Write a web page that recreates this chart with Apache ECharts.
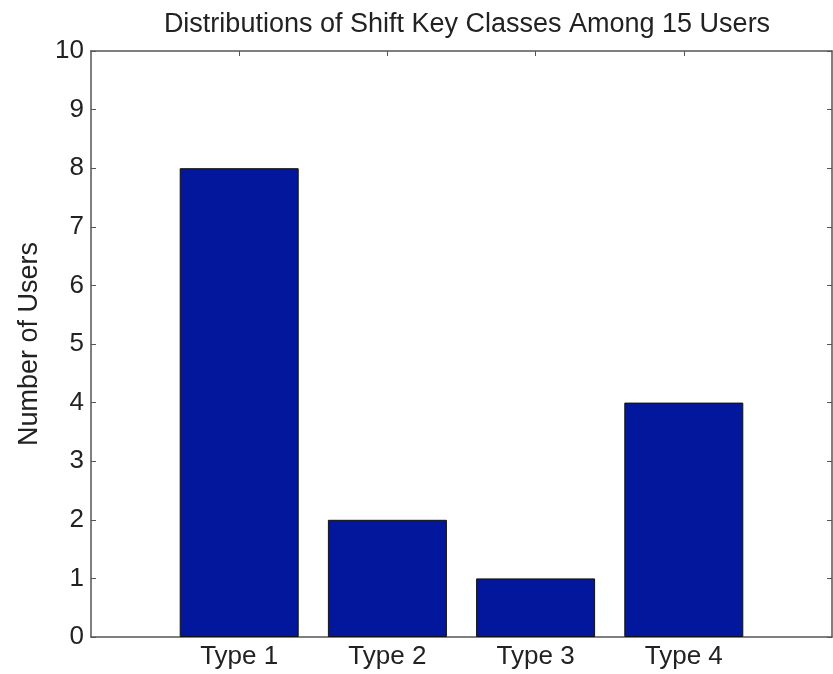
<!DOCTYPE html>
<html>
<head>
<meta charset="utf-8">
<script src="https://cdn.jsdelivr.net/npm/echarts@6/dist/echarts.min.js"></script>
<style>
  html, body { margin: 0; padding: 0; background: #fff; }
  #chart { width: 833px; height: 674px; }
</style>
</head>
<body>
<div id="chart"></div>
<script>
// data
const categories = ["Type 1", "Type 2", "Type 3", "Type 4"];
const positions = [1, 2, 3, 4];
const users = [8, 2, 1, 4];
const yTicks = [0, 1, 2, 3, 4, 5, 6, 7, 8, 9, 10];

const chart = echarts.init(document.getElementById("chart"));

const font = "'Liberation Sans', Arial, Helvetica, sans-serif";
const axisColor = "#555";

const option = {
  backgroundColor: "#fff",
  animation: false,
  title: {
    text: "Distributions of Shift Key Classes Among 15 Users",
    left: 462,
    textAlign: "center",
    top: 6,
    textStyle: {
      fontFamily: font,
      fontSize: 27,
      fontWeight: "normal",
      color: "#222",
    },
  },
  grid: {
    left: 91,
    right: 1,
    top: 51,
    bottom: 37,
  },
  xAxis: [
    {
      type: "value",
      min: 0,
      max: 5,
      interval: 1,
      splitLine: { show: false },
      axisLine: { onZero: false, lineStyle: { color: axisColor, width: 1.5 } },
      axisTick: {
        inside: true,
        length: 5,
        customValues: positions,
        lineStyle: { color: axisColor },
      },
      axisLabel: {
        customValues: positions,
        formatter: (v) => categories[positions.indexOf(v)] || "",
        fontFamily: font,
        fontSize: 26,
        color: "#222",
        margin: 7,
      },
    },
    {
      type: "value",
      position: "top",
      min: 0,
      max: 5,
      interval: 1,
      splitLine: { show: false },
      axisLine: { show: true, onZero: false, lineStyle: { color: axisColor, width: 1.5 } },
      axisTick: {
        inside: true,
        length: 5,
        customValues: positions,
        lineStyle: { color: axisColor },
      },
      axisLabel: { show: false },
    },
  ],
  yAxis: [
    {
      type: "value",
      min: 0,
      max: 10,
      interval: 1,
      name: "Number of Users",
      nameLocation: "middle",
      nameGap: 48,
      nameTextStyle: { fontFamily: font, fontSize: 27, color: "#222" },
      splitLine: { show: false },
      axisLine: { show: true, onZero: false, lineStyle: { color: axisColor, width: 1.5 } },
      axisTick: {
        inside: true,
        length: 5,
        customValues: yTicks,
        lineStyle: { color: axisColor },
      },
      axisLabel: {
        fontFamily: font,
        fontSize: 26,
        color: "#222",
        margin: 7,
      },
    },
    {
      type: "value",
      position: "right",
      min: 0,
      max: 10,
      interval: 1,
      splitLine: { show: false },
      axisLine: { show: true, onZero: false, lineStyle: { color: axisColor, width: 1.5 } },
      axisTick: {
        inside: true,
        length: 5,
        lineStyle: { color: axisColor },
      },
      axisLabel: { show: false },
    },
  ],
  series: [
    {
      type: "bar",
      data: positions.map((p, i) => [p, users[i]]),
      barWidth: 119,
      itemStyle: {
        color: "#02179c",
        borderColor: "#111",
        borderWidth: 1,
      },
    },
  ],
};

chart.setOption(option);
</script>
</body>
</html>
